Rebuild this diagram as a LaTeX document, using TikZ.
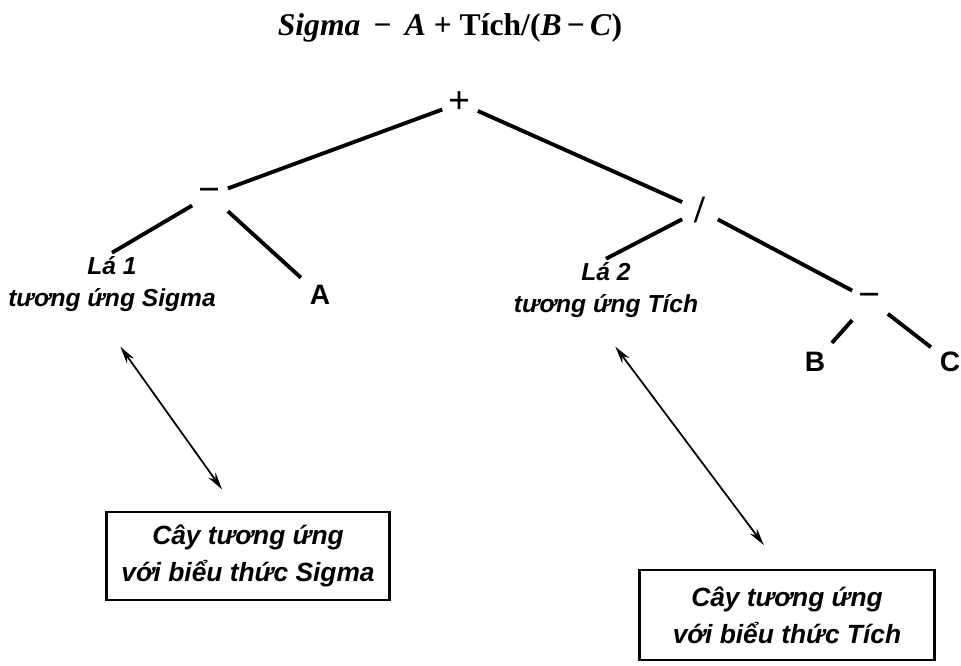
\documentclass[tikz,border=0pt]{standalone}
\usepackage{fontspec}
\setmainfont{Liberation Serif}
\newfontfamily\handfont{Liberation Sans}
\usetikzlibrary{arrows.meta}
\begin{document}
\begin{tikzpicture}[x=0.02cm,y=-0.02cm,
    op/.style={font=\bfseries\fontsize{22}{22}\selectfont, minimum width=0.7cm, minimum height=0.8cm, inner sep=0pt},
    var/.style={font=\handfont\bfseries\fontsize{16}{16}\selectfont, minimum size=0.75cm, inner sep=0pt},
    leaf/.style={font=\handfont\bfseries\itshape\fontsize{14}{18}\selectfont, align=center, inner sep=2pt},
    box/.style={draw, line width=1.2pt, font=\handfont\bfseries\itshape\fontsize{15}{21}\selectfont, align=center},
    edge/.style={line width=2.2pt},
    link/.style={line width=1pt, {Stealth[length=10pt,width=5pt]}-{Stealth[length=10pt,width=5pt]}}]
  \useasboundingbox (0,0) rectangle (961,666);
  \draw
    (450,28) node[font=\bfseries\fontsize{18}{18}\selectfont] (title){\textit{Sigma} \,−\, \textit{A} + Tích/(\textit{B}\,−\,\textit{C})}
    (460,103) node[op] (plus){+}
    (210,195) node[op] (minusL){−}
    (700,210) node[op] (div){/}
    (870,300) node[op] (minusR){−}
    (112,284) node[leaf] (leaf1){Lá 1\\tương ứng Sigma}
    (320,295) node[var] (a){A}
    (606,290) node[leaf] (leaf2){Lá 2\\tương ứng Tích}
    (815,362) node[var] (b){B}
    (950,362) node[var] (c){C}
    (248,556) node[box, minimum width=5.66cm, minimum height=1.76cm] (tree1){Cây tương ứng\\với biểu thức Sigma}
    (787,615) node[box, minimum width=5.9cm, minimum height=1.8cm] (tree2){Cây tương ứng\\với biểu thức Tích};
  \begin{scope}[edge]
    \draw (plus) to (minusL);
    \draw (plus) to (div);
    \draw (minusL) to (leaf1.north);
    \draw (minusL) to (a);
    \draw (div) to (leaf2.north);
    \draw (div) to (minusR);
    \draw (minusR) to (b);
    \draw (minusR) to (c);
  \end{scope}
  \begin{scope}[link]
    \draw[shorten <=22pt, shorten >=15pt] ([xshift=-8pt]leaf1.south) to ([xshift=-6pt]tree1.north);
    \draw[shorten <=18pt, shorten >=17pt] ([xshift=-5.5pt]leaf2.south) to ([xshift=-3pt]tree2.north);
  \end{scope}
\end{tikzpicture}
\end{document}
